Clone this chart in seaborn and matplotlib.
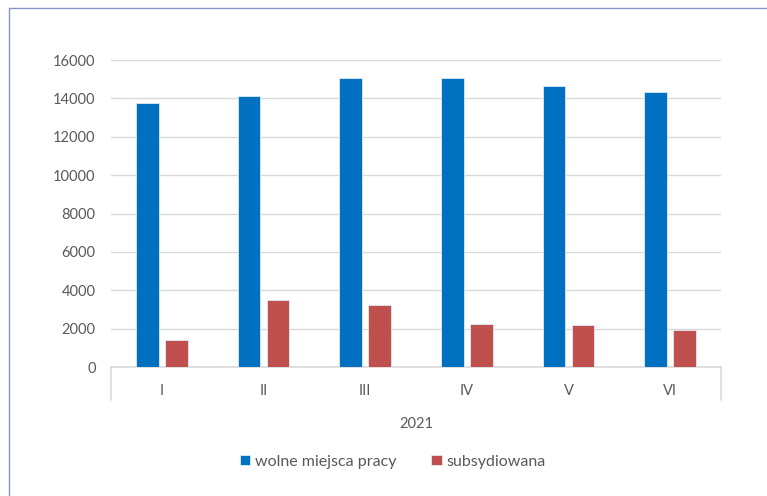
import pandas as pd
import matplotlib.pyplot as plt
import seaborn as sns
from matplotlib.lines import Line2D

months = ['I', 'II', 'III', 'IV', 'V', 'VI']
wolne = [13750, 14150, 15050, 15050, 14650, 14350]
subsyd = [1400, 3470, 3230, 2240, 2200, 1930]
series = ['wolne miejsca pracy', 'subsydiowana']
year_label = '2021'

df = pd.DataFrame({
    'miesiac': months * 2,
    'liczba': wolne + subsyd,
    'seria': [series[0]] * len(months) + [series[1]] * len(months),
})

sns.set_theme(style='white')
plt.rcParams['font.family'] = ['Lato', 'DejaVu Sans']
txt = '#595959'
grid = '#D9D9D9'

fig = plt.figure(figsize=(7.67, 4.96), dpi=100)
ax = fig.add_axes([0.1447, 0.26, 0.7953, 0.619])

sns.barplot(data=df, x='miesiac', y='liczba', hue='seria', order=months,
            palette=['#0070C0', '#C0504D'], saturation=1, width=0.57, gap=0.21,
            edgecolor='#DDEBF7', linewidth=0.6, legend=True, ax=ax, zorder=3)

ax.set_ylim(0, 16000)
ax.set_yticks(range(0, 16001, 2000))
ax.set_xlim(-0.5, len(months) - 0.5)
ax.yaxis.grid(True, color=grid, linewidth=1, zorder=0)
ax.set_axisbelow(True)
for s in ['left', 'right', 'top']:
    ax.spines[s].set_visible(False)
ax.spines['bottom'].set_color(grid)
ax.spines['bottom'].set_linewidth(1.2)
ax.tick_params(axis='y', length=0, pad=11, labelsize=10.5, labelcolor=txt)
ax.tick_params(axis='x', length=0, pad=12, labelsize=10.5, labelcolor=txt)
ax.set_ylabel('')
ax.set_xlabel(year_label, fontsize=10.5, color=txt, labelpad=14)

# outer separators of the category group below the axis
for b in [-0.5, len(months) - 0.5]:
    ax.plot([b, b], [0, -0.107], color=grid, linewidth=1.2,
            transform=ax.get_xaxis_transform(), clip_on=False)

handles, labels = ax.get_legend_handles_labels()
ax.get_legend().remove()
fig.legend(handles, labels, loc='center', bbox_to_anchor=(0.512, 0.069), ncol=2,
           frameon=False, handlelength=0.65, handleheight=0.65, handletextpad=0.3,
           columnspacing=2.2, fontsize=11.5, labelcolor=txt)

# chart frame (left and top edges visible)
fig.add_artist(Line2D([9 / 767, 9 / 767], [0, 1 - 8 / 496], color='#8497C8', linewidth=1))
fig.add_artist(Line2D([9 / 767, 1], [1 - 8 / 496, 1 - 8 / 496], color='#8497C8', linewidth=1))

fig.savefig('out.png', dpi=100)
